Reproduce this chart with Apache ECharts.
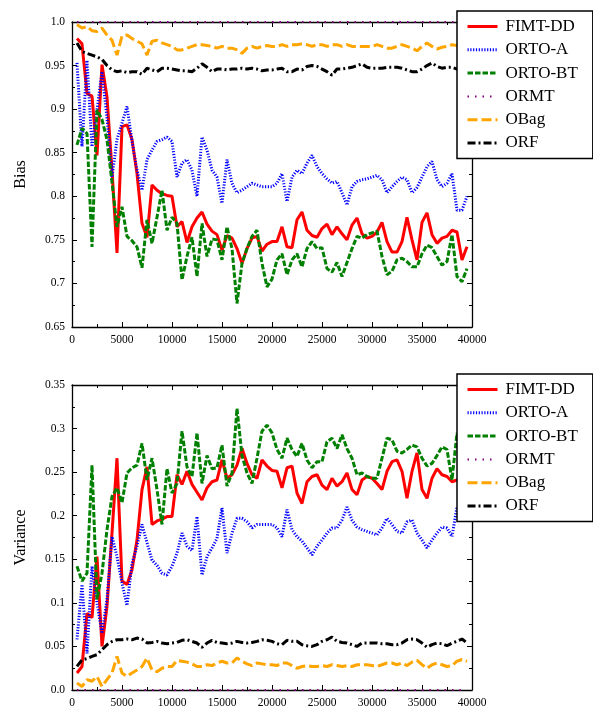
<!DOCTYPE html>
<html>
<head>
<meta charset="utf-8">
<script src="https://cdn.jsdelivr.net/npm/echarts@6/dist/echarts.min.js"></script>
<style>
html,body{margin:0;padding:0;background:#fff;}
#chart{width:593px;height:709px;}
</style>
</head>
<body>
<div id="chart"></div>
<script>
// ---- data ----
var xs = [500,1000,1500,2000,2500,3000,3500,4000,4500,5000,5500,6000,6500,7000,7500,8000,8500,9000,9500,10000,
10500,11000,11500,12000,12500,13000,13500,14000,14500,15000,15500,16000,16500,17000,17500,18000,18500,19000,19500,20000,
20500,21000,21500,22000,22500,23000,23500,24000,24500,25000,25500,26000,26500,27000,27500,28000,28500,29000,29500,30000,
30500,31000,31500,32000,32500,33000,33500,34000,34500,35000,35500,36000,36500,37000,37500,38000,38500,39000,39500];

var seriesNames = ['FIMT-DD','ORTO-A','ORTO-BT','ORMT','OBag','ORF'];

// Bias
var biasFIMT = [0.981,0.975,0.918,0.915,0.847,0.951,0.914,0.830,0.735,0.880,0.882,0.865,0.826,0.769,0.753,0.813,0.807,0.803,0.801,0.800,
0.765,0.771,0.747,0.765,0.775,0.782,0.768,0.760,0.756,0.738,0.755,0.752,0.740,0.723,0.740,0.752,0.754,0.737,0.745,0.748,
0.748,0.765,0.742,0.741,0.773,0.782,0.761,0.755,0.753,0.763,0.768,0.756,0.765,0.757,0.750,0.767,0.775,0.757,0.752,0.754,
0.759,0.770,0.748,0.736,0.736,0.748,0.776,0.750,0.727,0.770,0.781,0.756,0.746,0.752,0.754,0.761,0.759,0.727,0.742];
var biasORTOA = [0.953,0.857,0.956,0.857,0.899,0.943,0.890,0.822,0.865,0.884,0.903,0.863,0.830,0.807,0.842,0.853,0.863,0.865,0.868,0.863,
0.822,0.838,0.842,0.830,0.800,0.868,0.853,0.830,0.822,0.792,0.842,0.815,0.804,0.807,0.811,0.815,0.813,0.811,0.811,0.811,
0.815,0.826,0.794,0.822,0.830,0.826,0.838,0.847,0.834,0.826,0.820,0.815,0.817,0.804,0.790,0.811,0.817,0.819,0.820,0.822,
0.824,0.819,0.804,0.811,0.817,0.822,0.819,0.804,0.810,0.822,0.834,0.840,0.819,0.811,0.815,0.826,0.784,0.784,0.800];
var biasORTOBT = [0.859,0.878,0.872,0.742,0.899,0.888,0.865,0.816,0.765,0.788,0.754,0.749,0.742,0.718,0.773,0.746,0.776,0.807,0.761,0.776,
0.769,0.704,0.731,0.753,0.708,0.769,0.731,0.751,0.750,0.727,0.765,0.740,0.677,0.723,0.740,0.754,0.761,0.723,0.696,0.705,
0.727,0.734,0.710,0.727,0.734,0.719,0.740,0.748,0.740,0.741,0.717,0.713,0.724,0.708,0.724,0.740,0.754,0.752,0.756,0.758,
0.760,0.731,0.710,0.714,0.727,0.729,0.725,0.719,0.719,0.734,0.744,0.741,0.731,0.721,0.725,0.756,0.708,0.702,0.717];
var biasORMT = [1,1,1,1,1,1,1,1,1,1,1,1,1,1,1,1,1,1,1,1,1,1,1,1,1,1,1,1,1,1,1,1,1,1,1,1,1,1,1,1,
1,1,1,1,1,1,1,1,1,1,1,1,1,1,1,1,1,1,1,1,1,1,1,1,1,1,1,1,1,1,1,1,1,1,1,1,1,1,1];
var biasOBag = [0.997,0.993,0.995,0.990,0.989,0.993,0.985,0.979,0.962,0.984,0.985,0.981,0.978,0.975,0.962,0.978,0.979,0.976,0.974,0.972,
0.968,0.968,0.970,0.972,0.974,0.974,0.973,0.972,0.970,0.972,0.970,0.970,0.968,0.964,0.970,0.972,0.970,0.972,0.973,0.972,
0.972,0.974,0.972,0.974,0.974,0.975,0.974,0.972,0.974,0.974,0.972,0.974,0.974,0.972,0.974,0.972,0.972,0.972,0.972,0.972,
0.974,0.972,0.970,0.970,0.972,0.974,0.972,0.970,0.967,0.972,0.976,0.972,0.969,0.971,0.972,0.974,0.973,0.974,0.975];
var biasORF = [0.976,0.966,0.964,0.962,0.960,0.957,0.950,0.945,0.943,0.944,0.942,0.943,0.943,0.940,0.947,0.945,0.943,0.947,0.947,0.946,
0.945,0.944,0.944,0.943,0.947,0.952,0.948,0.943,0.946,0.946,0.945,0.946,0.946,0.947,0.946,0.947,0.946,0.944,0.945,0.945,
0.946,0.947,0.943,0.943,0.946,0.945,0.949,0.950,0.949,0.946,0.943,0.939,0.946,0.946,0.947,0.948,0.950,0.952,0.948,0.947,
0.947,0.947,0.948,0.948,0.948,0.947,0.945,0.943,0.943,0.946,0.950,0.953,0.949,0.947,0.948,0.948,0.946,0.948,0.949];

// Variance
var varFIMT = [0.0195,0.027,0.088,0.083,0.153,0.050,0.096,0.180,0.266,0.125,0.121,0.138,0.172,0.230,0.256,0.190,0.194,0.196,0.199,0.199,
0.247,0.236,0.251,0.236,0.227,0.218,0.232,0.239,0.241,0.264,0.243,0.247,0.258,0.2775,0.260,0.247,0.243,0.264,0.257,0.252,
0.251,0.232,0.255,0.257,0.226,0.214,0.239,0.245,0.247,0.235,0.230,0.243,0.234,0.239,0.249,0.230,0.224,0.241,0.245,0.243,
0.237,0.230,0.251,0.262,0.264,0.251,0.220,0.251,0.272,0.230,0.220,0.243,0.254,0.247,0.245,0.239,0.241,0.242,0.240];
var varORTOA = [0.058,0.121,0.042,0.142,0.100,0.065,0.104,0.176,0.153,0.123,0.097,0.145,0.165,0.190,0.169,0.149,0.143,0.134,0.132,0.142,
0.157,0.180,0.165,0.160,0.199,0.132,0.153,0.163,0.174,0.209,0.157,0.180,0.197,0.197,0.193,0.186,0.190,0.190,0.190,0.190,
0.186,0.176,0.207,0.184,0.176,0.171,0.163,0.155,0.165,0.172,0.180,0.186,0.186,0.195,0.210,0.195,0.187,0.184,0.182,0.180,
0.178,0.186,0.197,0.190,0.182,0.180,0.193,0.195,0.180,0.172,0.163,0.172,0.180,0.187,0.186,0.176,0.210,0.195,0.210];
var varORTOBT = [0.142,0.125,0.134,0.258,0.104,0.134,0.184,0.222,0.232,0.215,0.249,0.255,0.258,0.283,0.241,0.266,0.230,0.190,0.254,0.226,
0.237,0.297,0.256,0.245,0.295,0.237,0.269,0.254,0.255,0.281,0.234,0.249,0.323,0.269,0.249,0.237,0.266,0.297,0.304,0.295,
0.276,0.266,0.289,0.276,0.268,0.283,0.264,0.255,0.262,0.262,0.285,0.289,0.277,0.293,0.277,0.266,0.247,0.249,0.245,0.243,
0.243,0.266,0.289,0.287,0.274,0.272,0.276,0.281,0.279,0.266,0.257,0.260,0.269,0.279,0.276,0.241,0.295,0.270,0.285];
var varORMT = [0,0,0,0,0,0,0,0,0,0,0,0,0,0,0,0,0,0,0,0,0,0,0,0,0,0,0,0,0,0,0,0,0,0,0,0,0,0,0,0,
0,0,0,0,0,0,0,0,0,0,0,0,0,0,0,0,0,0,0,0,0,0,0,0,0,0,0,0,0,0,0,0,0,0,0,0,0,0,0];
var varOBag = [0.008,0.004,0.012,0.010,0.0156,0.004,0.012,0.0195,0.0385,0.0195,0.0156,0.0195,0.023,0.027,0.0367,0.023,0.021,0.025,0.027,0.027,
0.034,0.033,0.032,0.030,0.027,0.027,0.029,0.028,0.031,0.033,0.031,0.031,0.0367,0.033,0.030,0.028,0.031,0.030,0.029,0.029,
0.028,0.031,0.031,0.028,0.025,0.027,0.028,0.027,0.027,0.028,0.027,0.029,0.028,0.027,0.028,0.027,0.029,0.029,0.029,0.028,
0.027,0.029,0.031,0.031,0.029,0.031,0.028,0.032,0.034,0.029,0.025,0.029,0.031,0.029,0.027,0.028,0.033,0.035,0.033];
var varORF = [0.027,0.0347,0.036,0.0386,0.0405,0.0462,0.052,0.0557,0.0577,0.0577,0.0585,0.0577,0.0596,0.0585,0.054,0.0546,0.0558,0.0539,0.0531,0.0539,
0.0546,0.057,0.0577,0.0558,0.0539,0.049,0.0539,0.057,0.0546,0.0539,0.0531,0.0539,0.0558,0.0546,0.0539,0.0546,0.0558,0.0577,0.057,0.0558,
0.0531,0.052,0.057,0.0558,0.0558,0.052,0.0508,0.050,0.052,0.0558,0.0577,0.0608,0.0558,0.0546,0.0539,0.052,0.050,0.0539,0.0539,0.0539,
0.0539,0.0531,0.0531,0.052,0.052,0.0539,0.0577,0.0585,0.0577,0.0539,0.049,0.052,0.0539,0.0531,0.0508,0.0539,0.0558,0.0585,0.054];

var xTickLabels = ['0','5000','10000','15000','20000','25000','30000','35000','40000'];
var biasTickLabels = ['0.65','0.7','0.75','0.8','0.85','0.9','0.95','1.0'];
var varTickLabels = ['0.0','0.05','0.1','0.15','0.2','0.25','0.3','0.35'];

// ---- styles ----
var FONT = 'Liberation Serif';
var styles = [
  {color:'#ff0000', width:3, type:'solid'},
  {color:'#0000ff', width:3, type:[1.2,1.6]},
  {color:'#008000', width:3, type:[5.5,2]},
  {color:'#800080', width:2, type:[1.5,6]},
  {color:'#ffa500', width:3, type:[10,4]},
  {color:'#000000', width:3, type:[8,3,2,3]}
];
var biasData = [biasFIMT,biasORTOA,biasORTOBT,biasORMT,biasOBag,biasORF];
var varData = [varFIMT,varORTOA,varORTOBT,varORMT,varOBag,varORF];

function pairs(arr){ return xs.map(function(x,i){return [x,arr[i]];}); }

function xAxisDef(grid, pos, labels){
  return {
    type:'value', gridIndex:grid, position:pos, min:0, max:40000, interval:5000,
    axisLine:{show:true, onZero:false, lineStyle:{color:'#000', width:1.3}},
    axisTick:{show:true, inside:true, length:5, lineStyle:{color:'#000', width:1}},
    minorTick:{show:true, splitNumber:2, length:3, lineStyle:{color:'#000', width:1}},
    splitLine:{show:false}, minorSplitLine:{show:false},
    axisLabel:{show:labels, margin:7, fontFamily:FONT, fontSize:11.5, color:'#000',
      formatter:function(v){ return xTickLabels[Math.round(v/5000)]; }}
  };
}
function yAxisDef(grid, pos, labels, min, ticks, name){
  return {
    type:'value', gridIndex:grid, position:pos, min:min, max:min+0.35, interval:0.05,
    name: labels ? name : '', nameLocation:'middle', nameGap:43, nameRotate:90,
    nameTextStyle:{fontFamily:FONT, fontSize:16, color:'#000'},
    axisLine:{show:true, onZero:false, lineStyle:{color:'#000', width:1.3}},
    axisTick:{show:true, inside:true, length:5, lineStyle:{color:'#000', width:1}},
    minorTick:{show:true, splitNumber:2, length:3, lineStyle:{color:'#000', width:1}},
    splitLine:{show:false}, minorSplitLine:{show:false},
    axisLabel:{show:labels, margin:7, fontFamily:FONT, fontSize:11.5, color:'#000',
      formatter:function(v){ return ticks[Math.round((v-min)/0.05)]; }}
  };
}

var series = [];
[biasData, varData].forEach(function(group, g){
  group.forEach(function(arr, i){
    series.push({
      type:'line', name:seriesNames[i], xAxisIndex:g*2, yAxisIndex:g*2,
      data:pairs(arr), symbol:'none', showSymbol:false, smooth:false,
      lineStyle:{color:styles[i].color, width:styles[i].width, type:styles[i].type},
      itemStyle:{color:styles[i].color},
      emphasis:{disabled:true}, z:2+i
    });
  });
});

function legendDef(top){
  return {
    data:seriesNames.map(function(n,i){
      return {name:n, lineStyle:{width:styles[i].width, type:styles[i].type, color:styles[i].color}};
    }),
    orient:'vertical', left:457, top:top,
    itemWidth:30, itemHeight:14, itemGap:6.3,
    padding:[7,15,7,9], backgroundColor:'#fff', borderColor:'#000', borderWidth:1.5, borderRadius:0,
    itemStyle:{opacity:0},
    textStyle:{fontFamily:FONT, fontSize:17, lineHeight:14, color:'#000', padding:[0,0,0,3]},
    z:10
  };
}

var option = {
  animation:false,
  backgroundColor:'#fff',
  grid:[
    {left:72, top:22, width:400, height:305},
    {left:72, top:385, width:400, height:305}
  ],
  xAxis:[xAxisDef(0,'bottom',true), xAxisDef(0,'top',false), xAxisDef(1,'bottom',true), xAxisDef(1,'top',false)],
  yAxis:[yAxisDef(0,'left',true,0.65,biasTickLabels,'Bias'), yAxisDef(0,'right',false,0.65,biasTickLabels,''),
         yAxisDef(1,'left',true,0,varTickLabels,'Variance'), yAxisDef(1,'right',false,0,varTickLabels,'')],
  legend:[legendDef(11), legendDef(374)],
  series:series
};

var chart = echarts.init(document.getElementById('chart'), null, {renderer:'canvas'});
chart.setOption(option);
</script>
</body>
</html>
